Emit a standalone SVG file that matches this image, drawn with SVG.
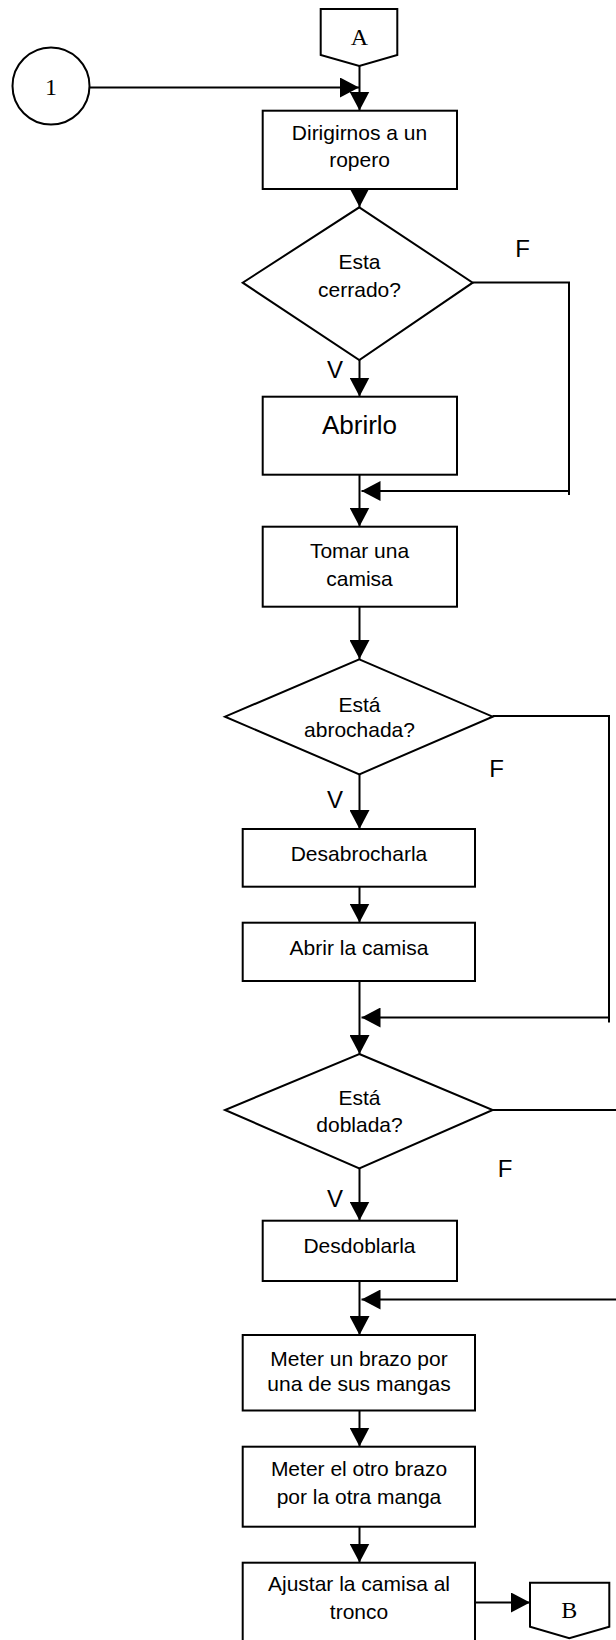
<svg xmlns="http://www.w3.org/2000/svg" width="616" height="1640" viewBox="0 0 616 1640">
<style>
.n{fill:#fff;stroke:#000;stroke-width:2}
.c{fill:none;stroke:#000;stroke-width:2}
.t{font-family:"Liberation Sans",Arial,sans-serif;font-size:21px;fill:#000;text-anchor:middle}
.s{font-family:"Liberation Serif","Times New Roman",serif;font-size:24px;fill:#000;text-anchor:middle}
.l{font-family:"Liberation Sans",Arial,sans-serif;font-size:24px;fill:#000;text-anchor:middle}
</style>
<defs>
<marker id="ah" viewBox="0 0 19 20" refX="19" refY="10" markerWidth="19" markerHeight="20" markerUnits="userSpaceOnUse" orient="auto">
<path d="M0 0 L19 10 L0 20 Z" fill="#000"/>
</marker>
</defs>
<rect width="616" height="1640" fill="#fff"/>
<g id="connectors">
<path class="c" d="M359.5 66 V110.5" marker-end="url(#ah)"/>
<path class="c" d="M89.5 87.5 H359" marker-end="url(#ah)"/>
<path class="c" d="M359.5 189 V207" marker-end="url(#ah)"/>
<path class="c" d="M359.5 360 V396.5" marker-end="url(#ah)"/>
<path class="c" d="M472.5 282.5 H569 V495"/>
<path class="c" d="M569 491 H361.5" marker-end="url(#ah)"/>
<path class="c" d="M359.5 470 V526.5" marker-end="url(#ah)"/>
<path class="c" d="M359.5 603 V659" marker-end="url(#ah)"/>
<path class="c" d="M359.5 774 V829" marker-end="url(#ah)"/>
<path class="c" d="M492.5 716 H609 V1022.5"/>
<path class="c" d="M609 1017.5 H361.5" marker-end="url(#ah)"/>
<path class="c" d="M359.5 885 V922.5" marker-end="url(#ah)"/>
<path class="c" d="M359.5 977 V1054" marker-end="url(#ah)"/>
<path class="c" d="M492.5 1110 H617"/>
<path class="c" d="M617 1299.5 H361.5" marker-end="url(#ah)"/>
<path class="c" d="M359.5 1168 V1220.5" marker-end="url(#ah)"/>
<path class="c" d="M359.5 1278 V1335" marker-end="url(#ah)"/>
<path class="c" d="M359.5 1408 V1446.5" marker-end="url(#ah)"/>
<path class="c" d="M359.5 1524 V1562.5" marker-end="url(#ah)"/>
<path class="c" d="M472.5 1602.5 H530" marker-end="url(#ah)"/>
<text class="l" x="522.7" y="256.7">F</text>
<text class="l" x="335" y="378.3">V</text>
<text class="l" x="496.7" y="776.7">F</text>
<text class="l" x="335" y="808.3">V</text>
<text class="l" x="505" y="1176.7">F</text>
<text class="l" x="335" y="1206.7">V</text>
</g>
<g id="conn-A">
<path class="n" d="M320.7 9 H397.3 V55 L359.3 66 L320.7 55 Z"/>
<text class="s" x="359.3" y="45">A</text>
</g>
<g id="conn-1">
<circle class="n" cx="51" cy="86" r="38.5"/>
<text class="s" x="51" y="95">1</text>
</g>
<g id="box-dirigirnos">
<rect class="n" x="262.7" y="110.7" width="194.3" height="78.3"/>
<text class="t" x="359.5" y="139.5">Dirigirnos a un</text>
<text class="t" x="359.5" y="167">ropero</text>
</g>
<g id="dec-cerrado">
<path class="n" d="M359.3 207.3 L472.7 282.7 L359.3 360 L242.7 282.7 Z"/>
<text class="t" x="359.5" y="269.3">Esta</text>
<text class="t" x="359.5" y="296.7">cerrado?</text>
</g>
<g id="box-abrirlo">
<rect class="n" x="262.7" y="396.7" width="194.3" height="78"/>
<text class="t" x="359.5" y="433.5" style="font-size:26px">Abrirlo</text>
</g>
<g id="box-tomar">
<rect class="n" x="262.7" y="526.7" width="194.3" height="80"/>
<text class="t" x="359.5" y="557.5">Tomar una</text>
<text class="t" x="359.5" y="585.5">camisa</text>
</g>
<g id="dec-abrochada">
<path class="n" d="M359.3 659.3 L492.7 716.7 L359.3 774.3 L225 716.7 Z"/>
<text class="t" x="359.5" y="711.7">Está</text>
<text class="t" x="359.5" y="737.3">abrochada?</text>
</g>
<g id="box-desabrocharla">
<rect class="n" x="242.7" y="829" width="232.3" height="57.7"/>
<text class="t" x="359" y="861">Desabrocharla</text>
</g>
<g id="box-abrir-camisa">
<rect class="n" x="242.7" y="922.7" width="232.3" height="58.3"/>
<text class="t" x="359" y="955">Abrir la camisa</text>
</g>
<g id="dec-doblada">
<path class="n" d="M359.3 1054 L492.7 1110 L359.3 1168.3 L225 1110 Z"/>
<text class="t" x="359.5" y="1105">Está</text>
<text class="t" x="359.5" y="1132.3">doblada?</text>
</g>
<g id="box-desdoblarla">
<rect class="n" x="262.7" y="1220.7" width="194.3" height="60.3"/>
<text class="t" x="359.5" y="1253.3">Desdoblarla</text>
</g>
<g id="box-meter1">
<rect class="n" x="242.7" y="1335" width="232.3" height="75.5"/>
<text class="t" x="359" y="1366">Meter un brazo por</text>
<text class="t" x="359" y="1391">una de sus mangas</text>
</g>
<g id="box-meter2">
<rect class="n" x="242.7" y="1446.7" width="232.3" height="80"/>
<text class="t" x="359" y="1476">Meter el otro brazo</text>
<text class="t" x="359" y="1504">por la otra manga</text>
</g>
<g id="box-ajustar">
<rect class="n" x="242.7" y="1562.7" width="232.3" height="90"/>
<text class="t" x="359" y="1590.7">Ajustar la camisa al</text>
<text class="t" x="359" y="1619">tronco</text>
</g>
<g id="conn-B">
<path class="n" d="M530 1582.7 H609.3 V1626.7 L569.3 1638.3 L530 1626.7 Z"/>
<text class="s" x="569.3" y="1618.3">B</text>
</g>
</svg>
